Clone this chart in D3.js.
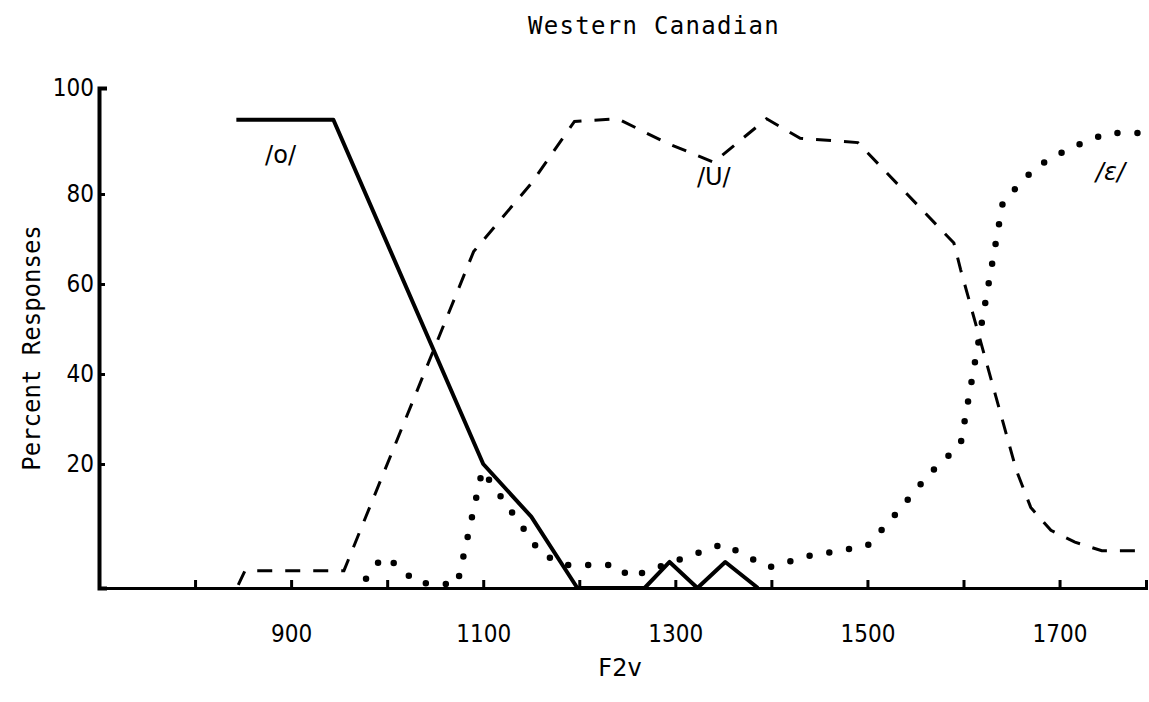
<!DOCTYPE html>
<html>
<head>
<meta charset="utf-8">
<script src="https://cdn.jsdelivr.net/npm/d3@7"></script>
<style>
body { margin: 0; background: #fff; }
.axis path, .axis line { stroke: #000; }
.axis text { font-family: "DejaVu Sans", sans-serif; font-stretch: condensed; font-size: 24px; fill: #000; }
.mono { font-family: "DejaVu Sans Mono", monospace; fill: #000; }
.vowel { font-family: "DejaVu Sans", sans-serif; font-size: 24px; fill: #000; }
</style>
</head>
<body>
<script>
// dimensions
var width = 1149, height = 702;

// /o/ responses (solid)
var oF2 = [843, 944, 1100, 1150, 1198, 1268, 1294, 1323, 1352, 1386];
var oPct = [94, 94, 20, 11.5, 0, 0, 4.2, 0, 4.2, 0];

// /U/ responses (dashed)
var uF2 = [845, 852, 955, 1090, 1150, 1195, 1240, 1290, 1340, 1395, 1430, 1490, 1590, 1597, 1655, 1670, 1691, 1716, 1744, 1790];
var uPct = [0.5, 2.8, 2.8, 67.2, 82, 93.7, 94.2, 89.7, 86, 94.2, 90.5, 89.7, 69.1, 63.2, 19, 13, 9.3, 7.4, 6, 6];

// /E/ responses (dotted)
var eF2 = [978, 995, 1012, 1030, 1073, 1099, 1160, 1185, 1240, 1252, 1350, 1397, 1440, 1500, 1527, 1565, 1597, 1641, 1675, 1711, 1750, 1790];
var ePct = [1.5, 5, 3.6, 0.8, 0.6, 19, 5.6, 3.7, 3.7, 1.7, 7.1, 3.3, 5.2, 6.8, 11.5, 18.5, 24.4, 78.2, 85, 88.7, 91.5, 91.5];

// axis ticks
var xTicks = [800, 900, 1000, 1100, 1200, 1300, 1400, 1500, 1600, 1700];
var xLabels = [900, 1100, 1300, 1500, 1700];
var yTicks = [20, 40, 60, 80, 100];

// vowel labels
var labelText = ["/o/", "/U/", "/\u025B/"];
var labelF2 = [889, 1340, 1753];
var labelPct = [87.4, 83.2, 84.2];

var xScale = d3.scaleLinear().domain([700, 1790]).range([99, 1146]);
// the hand-drawn axis is uneven: stretched 0-20 and 80-100 bands
var yScale = d3.scaleLinear().domain([0, 20, 80, 100]).range([588, 464, 194, 88]);

var svg = d3.select("body").append("svg")
    .attr("width", width)
    .attr("height", height);

// x axis, ticks pointing up
var xAxis = d3.axisBottom(xScale)
    .tickValues(xTicks)
    .tickSizeInner(-8)
    .tickSizeOuter(-8)
    .tickPadding(37)
    .tickFormat(d => xLabels.indexOf(d) >= 0 ? d : "");

svg.append("g")
    .attr("class", "axis x")
    .attr("transform", "translate(0," + yScale(0) + ")")
    .call(xAxis)
    .call(g => g.select(".domain").attr("stroke-width", 3))
    .call(g => g.selectAll(".tick line").attr("stroke-width", 3));

// y axis, ticks pointing right
var yAxis = d3.axisLeft(yScale)
    .tickValues(yTicks)
    .tickSizeInner(-6)
    .tickSizeOuter(-8)
    .tickPadding(5);

svg.append("g")
    .attr("class", "axis y")
    .attr("transform", "translate(" + xScale(700) + ",0)")
    .call(yAxis)
    .call(g => g.select(".domain").attr("stroke-width", 4))
    .call(g => g.selectAll(".tick line").attr("stroke-width", 3));

var line = d3.line()
    .x(d => xScale(d[0]))
    .y(d => yScale(d[1]));

// dashed /U/
svg.append("path")
    .datum(d3.zip(uF2, uPct))
    .attr("d", line)
    .attr("fill", "none")
    .attr("stroke", "#000")
    .attr("stroke-width", 3)
    .attr("stroke-dasharray", "15 13");

// dotted /E/
svg.append("path")
    .datum(d3.zip(eF2, ePct))
    .attr("d", line)
    .attr("fill", "none")
    .attr("stroke", "#000")
    .attr("stroke-width", 6.5)
    .attr("stroke-linecap", "round")
    .attr("stroke-dasharray", "0 20");

// solid /o/
svg.append("path")
    .datum(d3.zip(oF2, oPct))
    .attr("d", line)
    .attr("fill", "none")
    .attr("stroke", "#000")
    .attr("stroke-width", 4)
    .attr("stroke-linejoin", "round");

// vowel labels
svg.selectAll(".vowel")
    .data(labelText)
    .enter()
    .append("text")
    .attr("class", "vowel")
    .attr("x", (d, i) => xScale(labelF2[i]))
    .attr("y", (d, i) => yScale(labelPct[i]))
    .attr("dy", "0.35em")
    .attr("text-anchor", "middle")
    .style("font-style", (d, i) => i == 2 ? "italic" : "normal")
    .text(d => d);

// title
svg.append("text")
    .attr("class", "mono")
    .attr("x", 654)
    .attr("y", 34)
    .attr("text-anchor", "middle")
    .style("font-size", "24px")
    .style("letter-spacing", "1.3px")
    .text("Western Canadian");

// y label
svg.append("text")
    .attr("class", "mono")
    .attr("transform", "translate(40,348) rotate(-90)")
    .attr("text-anchor", "middle")
    .style("font-size", "24px")
    .text("Percent Responses");

// x label
svg.append("text")
    .attr("x", 620)
    .attr("y", 676)
    .attr("text-anchor", "middle")
    .style("font-family", "DejaVu Sans, sans-serif")
    .style("font-size", "24px")
    .text("F2v");
</script>
</body>
</html>
